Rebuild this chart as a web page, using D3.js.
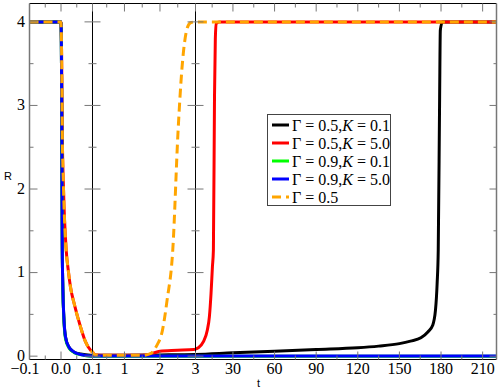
<!DOCTYPE html>
<html lang="en">
	<head>
		<meta charset="utf-8">
		<title>D3: R versus t, broken axis</title>
		<script src="https://d3js.org/d3.v7.min.js"></script>
		<style type="text/css">
			body { margin: 0; background: #fff; }
			.tick-label { font-family: "Liberation Serif", "Times New Roman", serif; font-size: 16px; fill: #000; }
			.axis-title { font-family: "Liberation Sans", Arial, sans-serif; font-size: 11px; fill: #000; }
			.legend-text { font-family: "Liberation Serif", "Times New Roman", serif; font-size: 16px; fill: #000; }
		</style>
	</head>
	<body>
        <script type="text/javascript">
			//Width and height
			var w = 498;
            var h = 392;

            // t breaks of the three panels and tick values
            var xBreaks = [-0.1, 0.1, 3, 220];
            var xMajor = [-0.1, 0, 0.1, 1, 2, 3, 30, 60, 90, 120, 150, 180, 210];
            var xMinor = [-0.05, 0.05, 0.5, 1.5, 2.5, 15, 45, 75, 105, 135, 165, 195];
            var xLabels = ["\u22120.1", "0.0", "0.1", "1", "2", "3", "30", "60", "90", "120", "150", "180", "210"];
            var yMajor = [0, 1, 2, 3, 4];
            var yMinor = [0.5, 1.5, 2.5, 3.5];

            // series: Gamma = 0.5, K = 0.1 (black)
            var tBlack = [-0.1, 0, 0.001, 0.002, 0.003, 0.004, 0.006, 0.009, 0.0143, 0.025, 0.041, 0.062, 0.094, 1, 2, 3, 30, 60, 90, 120, 135, 150, 158, 165.5, 170.5, 174, 176, 177.2, 178, 179, 179.5, 181, 220];
            var rBlack = [4, 4, 3.8, 3.2, 2.2, 1.3, 0.8, 0.47, 0.23, 0.11, 0.05, 0.025, 0.012, 0.012, 0.015, 0.02, 0.04, 0.06, 0.08, 0.10, 0.12, 0.15, 0.18, 0.22, 0.29, 0.37, 0.55, 0.87, 1.27, 3.1, 3.9, 4, 4];
            // series: Gamma = 0.5, K = 5.0 (red)
            var tRed = [-0.1, 0, 0.002, 0.004, 0.008, 0.0165, 0.023, 0.03, 0.043, 0.062, 0.078, 0.094, 0.1, 0.17, 0.5, 1, 1.5, 1.73, 2.0, 2.49, 2.95, 3, 5, 8.6, 11.5, 13, 14.2, 15.2, 15.9, 16.7, 17.3, 18, 20, 220];
            var rRed = [4, 4, 3.6, 2.7, 2.0, 1.27, 1.03, 0.83, 0.61, 0.35, 0.17, 0.07, 0.05, 0.015, 0.01, 0.01, 0.012, 0.024, 0.06, 0.07, 0.08, 0.085, 0.1, 0.17, 0.31, 0.47, 0.75, 1.07, 1.27, 3.1, 3.8, 3.98, 4, 4];
            // series: Gamma = 0.9, K = 0.1 (green)
            var tGreen = [-0.1, 0, 0.001, 0.002, 0.003, 0.004, 0.006, 0.009, 0.0143, 0.025, 0.041, 0.062, 0.094, 1, 3, 100, 220];
            var rGreen = [4, 4, 3.8, 3.2, 2.2, 1.3, 0.78, 0.45, 0.21, 0.1, 0.045, 0.018, 0, 0, 0, 0, 0];
            // series: Gamma = 0.9, K = 5.0 (blue)
            var tBlue = [-0.1, 0, 0.001, 0.002, 0.003, 0.004, 0.006, 0.009, 0.0143, 0.025, 0.041, 0.062, 0.094, 1, 3, 100, 220];
            var rBlue = [4, 4, 3.8, 3.2, 2.2, 1.3, 0.8, 0.47, 0.23, 0.11, 0.05, 0.02, 0.003, 0.003, 0.003, 0.003, 0.003];
            // series: Gamma = 0.5 (orange, dashed)
            var tOrange = [-0.1, 0, 0.002, 0.004, 0.008, 0.0165, 0.023, 0.03, 0.043, 0.062, 0.078, 0.094, 0.1, 0.17, 0.5, 1, 1.5, 1.73, 1.9, 2.07, 2.2, 2.36, 2.51, 2.62, 2.77, 2.86, 3, 220];
            var rOrange = [4, 4, 3.6, 2.7, 2.0, 1.27, 1.03, 0.83, 0.61, 0.35, 0.17, 0.07, 0.05, 0.015, 0.01, 0.01, 0.01, 0.03, 0.12, 0.31, 0.67, 1.27, 2.7, 3.45, 3.93, 3.99, 4, 4];

            var seriesNames = [["\u0393 = 0.5,", "K", " = 0.1"], ["\u0393 = 0.5,", "K", " = 5.0"], ["\u0393 = 0.9,", "K", " = 0.1"], ["\u0393 = 0.9,", "K", " = 5.0"], ["\u0393 = 0.5", "", ""]];
            var seriesColors = ["#000000", "#ff0000", "#00ff00", "#0000ff", "#ffa500"];

            var series = [
                {t: tBlack, r: rBlack},
                {t: tRed, r: rRed},
                {t: tGreen, r: rGreen},
                {t: tBlue, r: rBlue},
                {t: tOrange, r: rOrange}
            ];

            var mySVG = d3.select('body').append('svg').attr('width', w).attr('height', h);

            //Create scale functions (piecewise x for the broken axis)
			var xScale = d3.scaleLinear()
								 .domain(xBreaks)
								 .range([29.5, 92.5, 195.5, 496.5]);

			var yScale = d3.scaleLinear()
								 .domain([-0.04, 4.22])
								 .range([359.5, 3.5]);

            var plotLeft = xScale(xBreaks[0]), plotRight = xScale(xBreaks[3]);
            var plotTop = yScale.range()[1], plotBottom = yScale.range()[0];

            mySVG.append("clipPath").attr("id", "plot")
                .append("rect").attr("x", plotLeft).attr("y", plotTop)
                .attr("width", plotRight - plotLeft).attr("height", plotBottom - plotTop);

            // curves
            var line = d3.line()
                .x(d => xScale(d[0]))
                .y(d => yScale(d[1]))
                .curve(d3.curveMonotoneX);

            mySVG.append("g").attr("clip-path", "url(#plot)")
                .selectAll("path")
                .data(series)
                .enter()
                .append("path")
                    .attr("d", d => line(d.t.map((t, i) => [t, d.r[i]])))
                    .attr("fill", "none")
                    .attr("stroke", (d, i) => seriesColors[i])
                    .attr("stroke-width", 3)
                    .attr("stroke-dasharray", (d, i) => i == 4 ? "9,5" : null);

            // frame
            var frame = mySVG.append("g");
            frame.append("line").attr("x1", plotLeft).attr("x2", plotRight).attr("y1", plotTop).attr("y2", plotTop).attr("stroke", "#000");
            frame.append("line").attr("x1", plotLeft).attr("x2", plotRight).attr("y1", plotBottom).attr("y2", plotBottom).attr("stroke", "#000");
            frame.append("line").attr("x1", plotLeft).attr("x2", plotLeft).attr("y1", plotTop).attr("y2", plotBottom).attr("stroke", "#777").attr("stroke-width", 1.5);
            frame.append("line").attr("x1", plotRight).attr("x2", plotRight).attr("y1", plotTop).attr("y2", plotBottom).attr("stroke", "#777").attr("stroke-width", 1.5);
            [xBreaks[1], xBreaks[2]].forEach(function(b) {
                frame.append("line").attr("x1", xScale(b)).attr("x2", xScale(b)).attr("y1", plotTop).attr("y2", plotBottom).attr("stroke", "#000");
            });

            // ticks
            var ticks = mySVG.append("g").attr("stroke", "#777").attr("stroke-width", 1);
            function xTicks(vals, len) {
                vals.forEach(function(v) {
                    ticks.append("line").attr("x1", xScale(v)).attr("x2", xScale(v)).attr("y1", plotTop).attr("y2", plotTop + len);
                    ticks.append("line").attr("x1", xScale(v)).attr("x2", xScale(v)).attr("y1", plotBottom).attr("y2", plotBottom - len);
                });
            }
            xTicks(xMajor, 8);
            xTicks(xMinor, 4);

            function yTicks(vals, len) {
                vals.forEach(function(v) {
                    var yy = yScale(v);
                    ticks.append("line").attr("x1", plotLeft).attr("x2", plotLeft + len).attr("y1", yy).attr("y2", yy);
                    ticks.append("line").attr("x1", plotRight).attr("x2", plotRight - len + 1).attr("y1", yy).attr("y2", yy);
                    [xBreaks[1], xBreaks[2]].forEach(function(b) {
                        ticks.append("line").attr("x1", xScale(b) - len).attr("x2", xScale(b) + len).attr("y1", yy).attr("y2", yy);
                    });
                });
            }
            yTicks(yMajor, 8);
            yTicks(yMinor, 4);

            // tick labels
            mySVG.append("g").selectAll("text")
                .data(xMajor)
                .enter()
                .append("text")
                    .attr("class", "tick-label")
                    .attr("font-family", "Liberation Serif, Times New Roman, serif")
                    .attr("x", d => xScale(d))
                    .attr("y", 374)
                    .attr("dx", d => d < 0 ? -4.5 : 0)
                    .attr("text-anchor", "middle")
                    .text((d, i) => xLabels[i]);

            mySVG.append("g").selectAll("text")
                .data(yMajor)
                .enter()
                .append("text")
                    .attr("class", "tick-label")
                    .attr("font-family", "Liberation Serif, Times New Roman, serif")
                    .attr("x", 25)
                    .attr("y", d => yScale(d))
                    .attr("dy", "0.3em")
                    .attr("text-anchor", "end")
                    .text(d => d);

            // axis titles
            mySVG.append("text").attr("class", "axis-title").attr("x", 4).attr("y", 180).text("R");
            mySVG.append("text").attr("class", "axis-title").attr("x", 257).attr("y", 387).text("t");

            // legend
            var legend = mySVG.append("g");
            legend.append("rect")
                .attr("x", 267.5).attr("y", 114.5).attr("width", 123).attr("height", 91)
                .attr("fill", "#fff").attr("stroke", "#444");

            var items = legend.selectAll("g.item")
                .data(seriesNames)
                .enter()
                .append("g")
                    .attr("class", "item")
                    .attr("transform", (d, i) => "translate(0," + (125 + 18 * i) + ")");

            items.append("line")
                .attr("x1", 272).attr("x2", 289).attr("y1", 0).attr("y2", 0)
                .attr("stroke", (d, i) => seriesColors[i])
                .attr("stroke-width", 3)
                .attr("stroke-dasharray", (d, i) => i == 4 ? "9,5" : null);

            var txt = items.append("text")
                .attr("class", "legend-text")
                .attr("font-family", "Liberation Serif, Times New Roman, serif")
                .attr("x", 292).attr("y", 5.5)
                .attr("xml:space", "preserve");
            txt.append("tspan").text(d => d[0]);
            txt.append("tspan").attr("font-style", "italic").text(d => d[1]);
            txt.append("tspan").text(d => d[2]);
        </script>
    </body>
</html>
